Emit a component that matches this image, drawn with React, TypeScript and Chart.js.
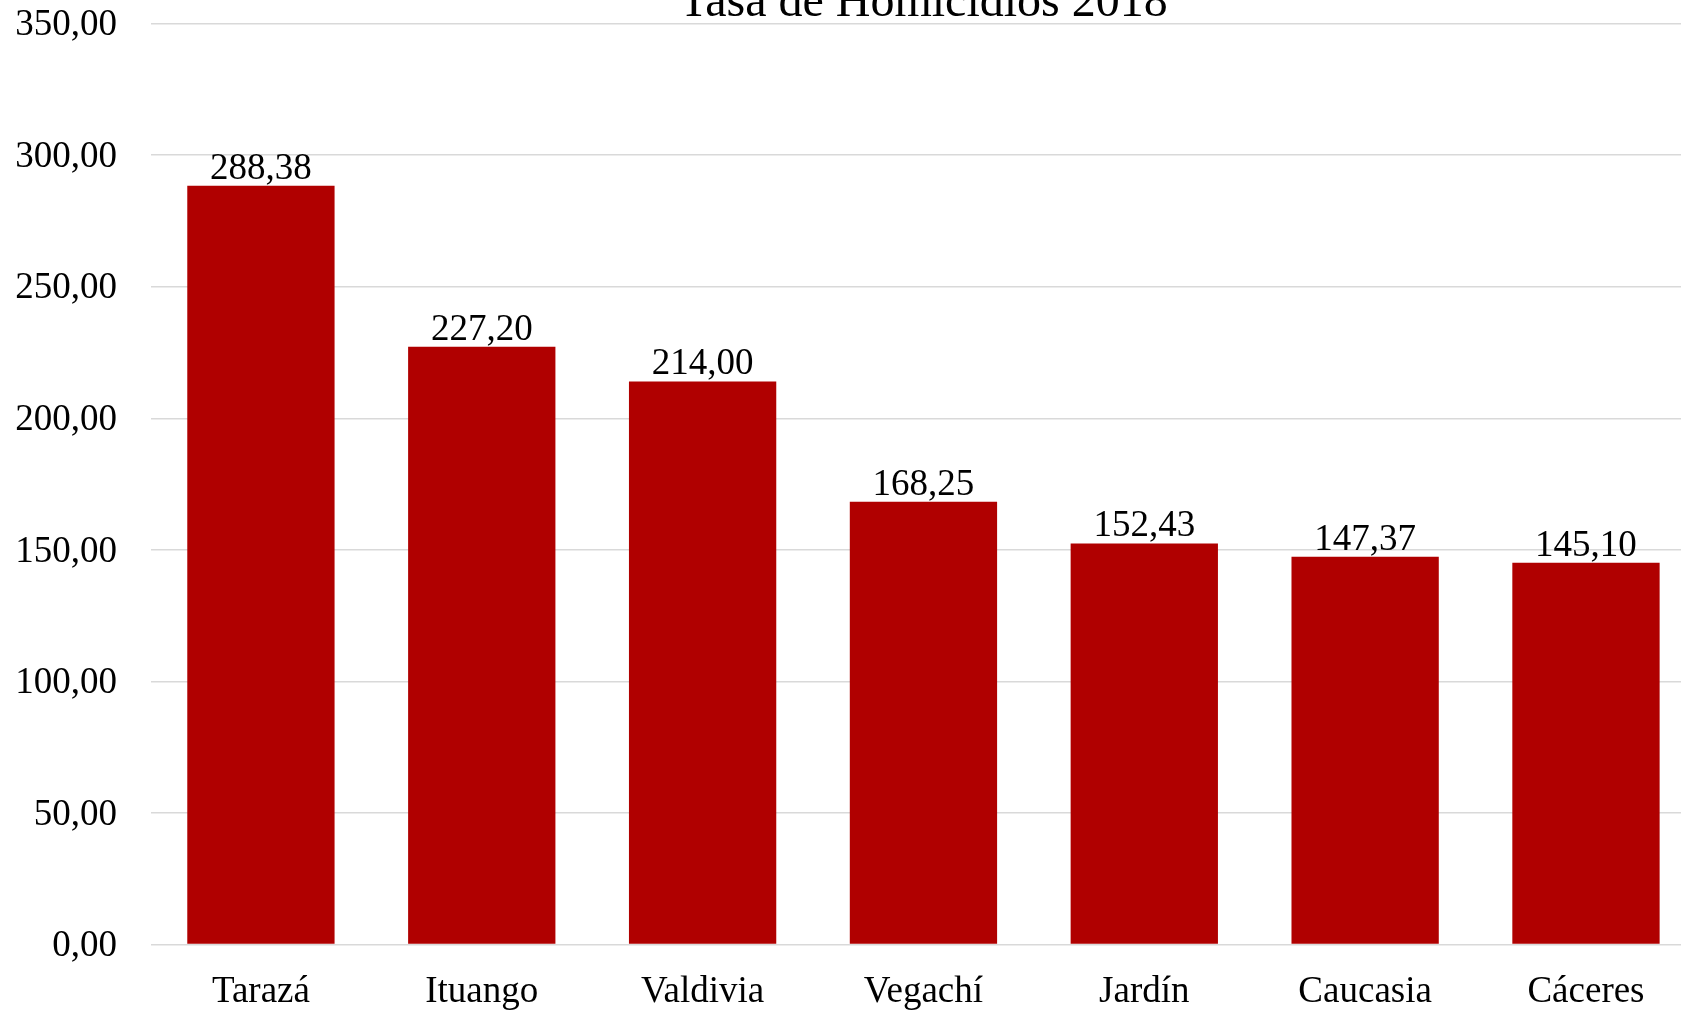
import React, { useEffect, useRef } from "react";
import { Chart, registerables } from "chart.js";

Chart.register(...registerables);

const categories = ["Tarazá", "Ituango", "Valdivia", "Vegachí", "Jardín", "Caucasia", "Cáceres"];
const values = [288.38, 227.2, 214.0, 168.25, 152.43, 147.37, 145.1];
const titleText = "Tasa de Homicidios 2018";
const yMin = 0;
const yMax = 350;
const yStep = 50;

const FONT = '"Liberation Serif", "Times New Roman", serif';
const fmt = (v: number) => v.toFixed(2).replace(".", ",");

const CANVAS_W = 1720;
const CANVAS_H = 1060;
const OFFSET_TOP = -50;

const valueLabels = {
  id: "valueLabels",
  afterDatasetsDraw(chart: any) {
    const ctx = chart.ctx;
    const meta = chart.getDatasetMeta(0);
    ctx.save();
    ctx.font = `37px ${FONT}`;
    ctx.fillStyle = "#000000";
    ctx.textAlign = "center";
    ctx.textBaseline = "alphabetic";
    meta.data.forEach((bar: any, i: number) => {
      ctx.fillText(fmt(values[i]), bar.x, bar.y - 7);
    });
    ctx.restore();
  },
};

export default function App() {
  const ref = useRef<HTMLCanvasElement | null>(null);
  useEffect(() => {
    if (!ref.current) return;
    const chart = new Chart(ref.current, {
      type: "bar",
      data: {
        labels: categories,
        datasets: [
          {
            data: values,
            backgroundColor: "#B00000",
            borderWidth: 0,
            barPercentage: 0.667,
            categoryPercentage: 1,
          },
        ],
      },
      options: {
        responsive: false,
        animation: false,
        devicePixelRatio: 1,
        layout: { padding: { left: 0, right: 23.6, top: 0, bottom: 0 } },
        plugins: {
          legend: { display: false },
          tooltip: { enabled: false },
          title: {
            display: true,
            fullSize: false,
            text: titleText,
            color: "#000000",
            font: { family: FONT, size: 48, weight: "normal", lineHeight: 0.85 },
            padding: { top: 32.8, bottom: 0 },
          },
        },
        scales: {
          x: {
            grid: { display: false, drawTicks: false },
            border: { display: false },
            ticks: {
              color: "#000000",
              font: { family: FONT, size: 37 },
              padding: 25,
              maxRotation: 0,
              autoSkip: false,
            },
            afterFit: (scale: any) => {
              scale.height = 65.4;
            },
          },
          y: {
            min: yMin,
            max: yMax,
            grid: { color: "#d9d9d9", lineWidth: 1.5, drawTicks: false },
            border: { display: false },
            ticks: {
              stepSize: yStep,
              color: "#000000",
              font: { family: FONT, size: 37 },
              padding: 33.5,
              labelOffset: 2,
              callback: (v: any) => fmt(Number(v)),
            },
            afterFit: (scale: any) => {
              scale.width = 150.5;
            },
          },
        },
      },
      plugins: [valueLabels],
    });
    return () => chart.destroy();
  }, []);

  return (
    <div
      style={{
        position: "fixed",
        left: 0,
        top: 0,
        width: 1681,
        height: 1010,
        overflow: "hidden",
        background: "#ffffff",
      }}
    >
      <canvas
        ref={ref}
        width={CANVAS_W}
        height={CANVAS_H}
        style={{ position: "absolute", left: 0, top: OFFSET_TOP, width: CANVAS_W, height: CANVAS_H }}
      />
    </div>
  );
}
